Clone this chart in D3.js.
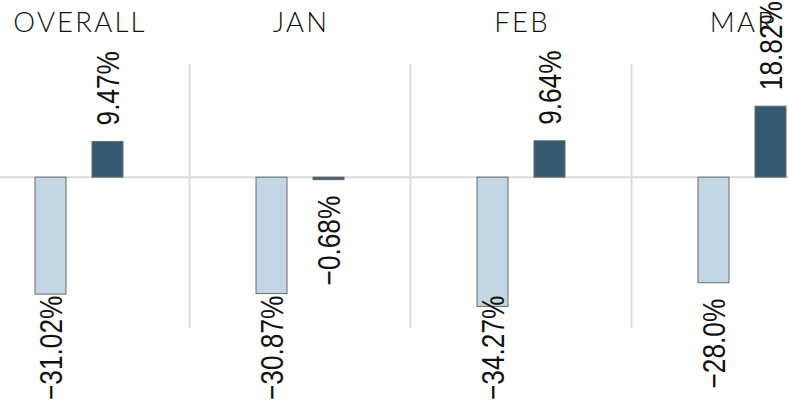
<!DOCTYPE html>
<html>
<head>
<meta charset="utf-8">
<script src="https://cdn.jsdelivr.net/npm/d3@7"></script>
<style>
  body { margin: 0; background: #fff; }
  svg { display: block; }
  .title { font-family: "Lato", "Open Sans", sans-serif; font-weight: 300; font-size: 27.5px; letter-spacing: 2.2px; fill: #111; }
  .lbl { font-family: "Liberation Sans", Arial, sans-serif; font-size: 32px; fill: #111; }
</style>
</head>
<body>
<svg id="chart"></svg>
<script>
// data
var categories = ["OVERALL", "JAN", "FEB", "MAR"];
var seriesNames = ["prior", "current"];
var priorValues = [-31.02, -30.87, -34.27, -28.0];
var currentValues = [9.47, -0.68, 9.64, 18.82];
var priorLabels = ["\u221231.02%", "\u221230.87%", "\u221234.27%", "\u221228.0%"];
var currentLabels = ["9.47%", "\u22120.68%", "9.64%", "18.82%"];

var width = 789, height = 401;
var colors = { prior: "#c3d6e3", current: "#35596f" };
var narrow = 0.82; // squeeze the label font to a narrow cut

var svg = d3.select("#chart").attr("width", width).attr("height", height);

var x0 = d3.scaleBand().domain(categories).range([-31.5, 852.5]);
var x1 = d3.scaleBand().domain(seriesNames).range([66.5, 154.5]).paddingInner(0.456);
var y = d3.scaleLinear().domain([-40, 30]).range([328, 64]);

var rows = [];
categories.forEach(function (c, i) {
  rows.push({ cat: c, s: "prior", v: priorValues[i], label: priorLabels[i] });
  rows.push({ cat: c, s: "current", v: currentValues[i], label: currentLabels[i] });
});

// panel dividers
svg.selectAll("line.grid")
  .data(categories.slice(0, -1))
  .enter().append("line")
  .attr("class", "grid")
  .attr("x1", function (d) { return x0(d) + x0.bandwidth(); })
  .attr("x2", function (d) { return x0(d) + x0.bandwidth(); })
  .attr("y1", y(30)).attr("y2", y(-40))
  .attr("stroke", "#dcdcdc").attr("stroke-width", 2);

// zero line
svg.append("line")
  .attr("x1", 0).attr("x2", width)
  .attr("y1", y(0)).attr("y2", y(0))
  .attr("stroke", "#dcdcdc").attr("stroke-width", 2);

// titles
svg.selectAll("text.title")
  .data(categories)
  .enter().append("text")
  .attr("class", "title")
  .attr("x", function (d) { return x0(d) + x0.bandwidth() / 2 + 1; })
  .attr("y", 32)
  .attr("text-anchor", "middle")
  .text(function (d) { return d; });

// bars
svg.selectAll("rect.bar")
  .data(rows)
  .enter().append("rect")
  .attr("class", "bar")
  .attr("x", function (d) { return x0(d.cat) + x1(d.s); })
  .attr("width", x1.bandwidth())
  .attr("y", function (d) { return Math.min(y(d.v), y(0)); })
  .attr("height", function (d) { return Math.abs(y(d.v) - y(0)); })
  .attr("fill", function (d) { return colors[d.s]; })
  .attr("stroke", "#6a6a6a").attr("stroke-width", 1);

// value labels, rotated, pushed back inside the frame when too long
var gap = 16, bottomLimit = 400;
svg.selectAll("text.lbl")
  .data(rows)
  .enter().append("text")
  .attr("class", "lbl")
  .attr("text-anchor", function (d) { return d.v >= 0 ? "start" : "end"; })
  .attr("dy", "0.36em")
  .text(function (d) { return d.label; })
  .each(function (d) {
    var cx = x0(d.cat) + x1(d.s) + x1.bandwidth() / 2;
    var len = this.getComputedTextLength() * narrow;
    var py;
    if (d.v >= 0) {
      py = y(d.v) - gap;
    } else {
      py = Math.min(y(d.v) + gap, bottomLimit - len);
    }
    d3.select(this).attr("transform",
      "translate(" + cx + "," + py + ") rotate(-90) scale(" + narrow + ",1)");
  });
</script>
</body>
</html>
